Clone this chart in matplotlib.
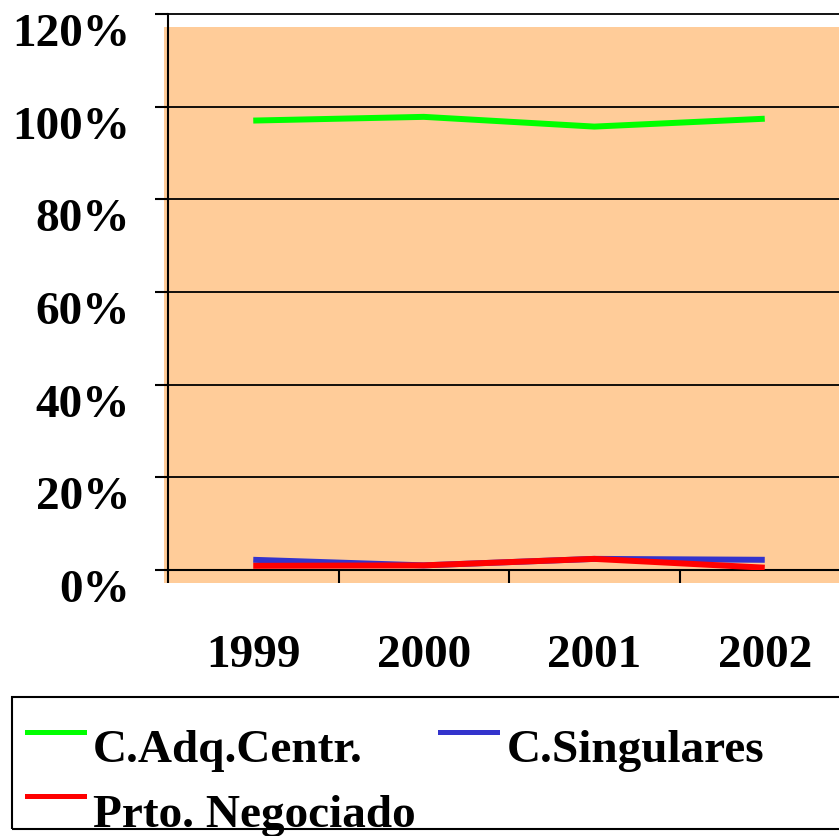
import matplotlib
matplotlib.use('Agg')
import matplotlib.pyplot as plt
from matplotlib.patches import Rectangle
from matplotlib.lines import Line2D

plt.rcParams['font.family'] = ['Liberation Serif', 'DejaVu Serif']
plt.rcParams['font.weight'] = 'bold'
plt.rcParams['font.size'] = 34

years = ['1999', '2000', '2001', '2002']
adq_centr = [97.0, 97.8, 95.7, 97.4]
singulares = [2.2, 1.0, 2.4, 2.2]
negociado = [0.9, 1.0, 2.4, 0.5]
yticks = [0, 20, 40, 60, 80, 100, 120]

series = [
    ('C.Adq.Centr.', adq_centr, '#00FF00'),
    ('C.Singulares', singulares, '#3333CC'),
    ('Prto. Negociado', negociado, '#FF0000'),
]

W, H = 839, 836
fig = plt.figure(figsize=(W / 100, H / 100), dpi=100)
ax = fig.add_axes([168 / W, (H - 570) / H, (850 - 168) / W, (570 - 14) / H])
ax.set_facecolor('none')

# peach plot area, slightly offset like the old excel export
fig.add_artist(Rectangle((164 / W, (H - 583) / H), 1, (583 - 27) / H,
                         transform=fig.transFigure, facecolor='#FFCC99',
                         edgecolor='none', zorder=-1))

x = list(range(len(years)))
for name, vals, col in series:
    ax.plot(x, vals, color=col, lw=4.3, solid_capstyle='butt', zorder=3)

ax.set_xlim(-0.5, 3.5)
ax.set_ylim(0, 120)
ax.set_yticks(yticks)
ax.set_yticklabels([f'{v}%' for v in yticks])
ax.yaxis.grid(True, color='black', lw=1.3, clip_on=False)
ax.set_axisbelow(True)
ax.tick_params(axis='y', length=9.4, width=1.5, pad=18)
plt.setp(ax.get_yticklabels(), va='top')

ax.set_xticks([-0.5, 0.5, 1.5, 2.5, 3.5])
ax.set_xticklabels([])
ax.set_xticks(x, minor=True)
ax.set_xticklabels(years, minor=True)
ax.tick_params(axis='x', which='major', length=9.4, width=1.5)
ax.tick_params(axis='x', which='minor', length=0, pad=47)

for s in ['top', 'right']:
    ax.spines[s].set_visible(False)
for s in ['left', 'bottom']:
    ax.spines[s].set_linewidth(1.5)

# legend box drawn by hand (text sits below the handle, as in the original)
fig.add_artist(Rectangle((12 / W, (H - 829) / H), 1, (829 - 697) / H,
                         transform=fig.transFigure, fill=False,
                         edgecolor='black', lw=1.5))
slots = [(27, 732, 93, 762), (440, 732, 507, 762), (27, 796, 93, 827)]
for (name, vals, col), (hx, hy, tx, ty) in zip(series, slots):
    fig.add_artist(Line2D([hx / W, (hx + 57) / W], [(H - hy) / H, (H - hy) / H],
                          transform=fig.transFigure, color=col, lw=3.6))
    fig.text(tx / W, (H - ty) / H, name, va='baseline', ha='left')

fig.savefig('out.png', dpi=100)
